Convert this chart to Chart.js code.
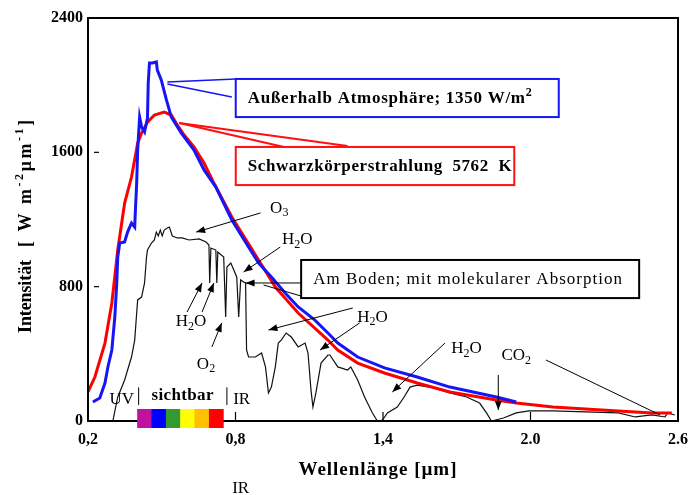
<!DOCTYPE html>
<html>
<head>
<meta charset="utf-8">
<script src="https://cdn.jsdelivr.net/npm/chart.js@4.4.1/dist/chart.umd.min.js"></script>
<style>
  html, body { margin: 0; padding: 0; background: #fff; }
</style>
</head>
<body>
<canvas id="c" width="697" height="495"></canvas>
<script>
// Spektrum außerhalb der Atmosphäre (blau)
const extraWl  = [0.220, 0.248, 0.269, 0.281, 0.297, 0.309, 0.317, 0.321, 0.329, 0.349, 0.361, 0.377, 0.390, 0.392, 0.398, 0.402, 0.406, 0.410, 0.418, 0.430, 0.442, 0.445, 0.450, 0.462, 0.478, 0.482, 0.498, 0.519, 0.539, 0.579, 0.631, 0.672, 0.720, 0.785, 0.853, 0.894, 0.946, 1.002, 1.055, 1.123, 1.176, 1.216, 1.297, 1.406, 1.539, 1.672, 1.861, 1.942];
const extraVal = [113, 137, 226, 322, 423, 619, 822, 977, 1060, 1066, 1125, 1179, 1155, 1227, 1417, 1614, 1715, 1810, 1751, 1721, 1804, 2013, 2132, 2132, 2138, 2090, 2031, 1912, 1810, 1715, 1614, 1495, 1393, 1197, 1036, 941, 858, 762, 679, 601, 524, 464, 381, 316, 262, 202, 143, 113];

// Schwarzkörperstrahlung 5762 K (rot)
const bbWl  = [0.200, 0.228, 0.269, 0.297, 0.321, 0.349, 0.377, 0.402, 0.418, 0.442, 0.470, 0.510, 0.539, 0.563, 0.591, 0.631, 0.672, 0.712, 0.785, 0.894, 0.962, 1.055, 1.176, 1.216, 1.297, 1.406, 1.539, 1.672, 1.861, 1.942, 2.091, 2.224, 2.357, 2.494, 2.575];
const bbVal = [173, 262, 464, 703, 1018, 1298, 1453, 1655, 1715, 1780, 1822, 1840, 1822, 1763, 1703, 1632, 1536, 1417, 1215, 959, 798, 643, 482, 423, 345, 286, 226, 173, 125, 107, 83, 71, 60, 48, 48];

// Am Boden, mit molekularer Absorption (schwarz)
const groundWl  = [0.301, 0.321, 0.341, 0.349, 0.377, 0.390, 0.398, 0.402, 0.418, 0.430, 0.438, 0.442, 0.458, 0.470, 0.478, 0.486, 0.494, 0.502, 0.510, 0.523, 0.531, 0.543, 0.563, 0.583, 0.611, 0.652, 0.680, 0.692, 0.695, 0.700, 0.720, 0.724, 0.728, 0.752, 0.760, 0.765, 0.781, 0.793, 0.805, 0.813, 0.821, 0.833, 0.841, 0.845, 0.853, 0.881, 0.906, 0.922, 0.934, 0.946, 0.962, 0.974, 0.986, 1.006, 1.027, 1.055, 1.083, 1.095, 1.107, 1.115, 1.127, 1.148, 1.176, 1.184, 1.216, 1.256, 1.269, 1.297, 1.325, 1.357, 1.377, 1.398, 1.418, 1.458, 1.486, 1.510, 1.539, 1.607, 1.672, 1.740, 1.793, 1.821, 1.841, 1.890, 1.942, 1.994, 2.091, 2.224, 2.357, 2.426, 2.494, 2.547, 2.559, 2.587];
const groundVal = [0, 143, 214, 244, 381, 482, 643, 721, 738, 822, 977, 1018, 1060, 1078, 1125, 1102, 1137, 1102, 1137, 1149, 1155, 1102, 1090, 1090, 1078, 1084, 1066, 1048, 822, 1030, 1018, 822, 1006, 977, 619, 917, 941, 899, 858, 619, 840, 828, 822, 423, 381, 381, 405, 322, 167, 202, 322, 464, 482, 524, 500, 441, 464, 405, 185, 83, 167, 345, 393, 393, 322, 304, 322, 244, 143, 48, 0, 6, 48, 83, 143, 202, 214, 197, 167, 143, 107, 48, 0, 18, 48, 60, 60, 54, 48, 24, 36, 24, 48, 36];

const xTickValues = [0.2, 0.8, 1.4, 2.0, 2.6];
const xTickLabels = ['0,2', '0,8', '1,4', '2.0', '2.6'];
const yTickValues = [0, 800, 1600, 2400];
const yTickLabels = ['0', '800', '1600', '2400'];

// sichtbarer Bereich, Farbstreifen
const visibleEdges  = [0.400, 0.458, 0.517, 0.575, 0.633, 0.692, 0.750];
const visibleColors = ['#c0129c', '#0000ff', '#339933', '#ffff00', '#ffc000', '#ff0000'];

const FONT = "'Liberation Serif', 'Times New Roman', serif";

// Beschriftungskästen (Datenkoordinaten)
const boxes = [
  { text: 'Außerhalb Atmosphäre; 1350 W/m^2', x0: 0.801, x1: 2.115, y0: 2037, y1: 1810, color: '#1515f8', weight: 'bold', width: 284 },
  { text: 'Schwarzkörperstrahlung  5762  K', x0: 0.801, x1: 1.934, y0: 1632, y1: 1405, color: '#ff1010', weight: 'bold', width: 264 },
  { text: 'Am Boden; mit molekularer Absorption', x0: 1.067, x1: 2.442, y0: 959, y1: 732, color: '#000', weight: 'normal', width: 309 }
];
const blueLeaders = [[0.523, 2019, 0.801, 2037], [0.523, 2007, 0.785, 1929]];
const redLeaders  = [[0.571, 1775, 1.015, 1626], [0.571, 1775, 1.256, 1638]];

// Pfeile: x1, y1, x2, y2, Pfeilspitze
const arrows = [
  [0.902, 1239, 0.640, 1125, true],
  [0.982, 1036, 0.833, 887, true],
  [0.603, 649, 0.664, 822, true],
  [0.664, 649, 0.712, 822, true],
  [0.704, 441, 0.744, 584, true],
  [1.277, 673, 0.934, 542, true],
  [1.305, 584, 1.144, 423, true],
  [1.652, 464, 1.438, 173, true],
  [1.869, 274, 1.869, 66, true],
  [2.063, 363, 2.527, 36, false],
  [1.067, 822, 0.841, 822, true],
  [1.067, 744, 0.914, 810, false]
];

const labels = [
  { t: 'O_3', x: 0.978, y: 1268 },
  { t: 'H_2O', x: 1.051, y: 1078 },
  { t: 'H_2O', x: 0.619, y: 590 },
  { t: 'O_2', x: 0.680, y: 339 },
  { t: 'H_2O', x: 1.357, y: 619 },
  { t: 'H_2O', x: 1.740, y: 429 },
  { t: 'CO_2', x: 1.942, y: 387 },
  { t: 'UV', x: 0.337, y: 125 },
  { t: 'sichtbar', x: 0.585, y: 149, weight: 'bold', width: 62 },
  { t: 'IR', x: 0.825, y: 125 },
  { t: 'IR', x: 0.821, y: -400 }
];
const rangeBars = [0.406, 0.765];

function parseRich(str) {
  const out = [];
  let buf = '', i = 0;
  while (i < str.length) {
    const c = str[i];
    if (c === '^' || c === '_') {
      if (buf) { out.push({ t: buf, k: 0 }); buf = ''; }
      let seg;
      if (str[i + 1] === '{') {
        const j = str.indexOf('}', i);
        seg = str.slice(i + 2, j);
        i = j + 1;
      } else {
        seg = str[i + 1];
        i += 2;
      }
      out.push({ t: seg, k: c === '^' ? 1 : -1 });
    } else {
      buf += c;
      i++;
    }
  }
  if (buf) out.push({ t: buf, k: 0 });
  return out;
}

// Text mit Hoch-/Tiefstellung zeichnen
function drawRich(ctx, str, x, y, o) {
  const size = o.size || 16, weight = o.weight || 'normal';
  const parts = parseRich(str);
  const fontFor = k => `${weight} ${k ? Math.round(size * 0.68) : size}px ${FONT}`;
  let spacing = 0;
  if (o.width) {
    ctx.letterSpacing = '0px';
    let nat = 0, n = 0;
    parts.forEach(p => { ctx.font = fontFor(p.k); nat += ctx.measureText(p.t).width; n += p.t.length; });
    spacing = (o.width - nat) / Math.max(1, n - 1);
  }
  ctx.letterSpacing = spacing.toFixed(2) + 'px';
  const widths = parts.map(p => { ctx.font = fontFor(p.k); return ctx.measureText(p.t).width; });
  const total = widths.reduce((s, w) => s + w, 0);
  let cx = o.align === 'left' ? x : (o.align === 'right' ? x - total : x - total / 2);
  ctx.textAlign = 'left';
  ctx.textBaseline = 'middle';
  ctx.fillStyle = o.color || '#000';
  parts.forEach((p, i) => {
    ctx.font = fontFor(p.k);
    const dy = p.k === 1 ? -size * 0.36 : (p.k === -1 ? size * 0.3 : 0);
    ctx.fillText(p.t, cx, y + dy);
    cx += widths[i];
  });
  ctx.letterSpacing = '0px';
}

function line(ctx, x1, y1, x2, y2) {
  ctx.beginPath();
  ctx.moveTo(x1, y1);
  ctx.lineTo(x2, y2);
  ctx.stroke();
}

function arrowHead(ctx, x1, y1, x2, y2) {
  const ang = Math.atan2(y2 - y1, x2 - x1);
  const len = 9, half = 3.5;
  ctx.beginPath();
  ctx.moveTo(x2, y2);
  ctx.lineTo(x2 - len * Math.cos(ang) + half * Math.sin(ang), y2 - len * Math.sin(ang) - half * Math.cos(ang));
  ctx.lineTo(x2 - len * Math.cos(ang) - half * Math.sin(ang), y2 - len * Math.sin(ang) + half * Math.cos(ang));
  ctx.closePath();
  ctx.fill();
}

const overlay = {
  id: 'overlay',
  afterDatasetsDraw(chart) {
    const { ctx, chartArea: a, scales: { x, y } } = chart;
    const X = v => x.getPixelForValue(v);
    const Y = v => y.getPixelForValue(v);
    ctx.save();

    // Rahmen
    ctx.strokeStyle = '#000';
    ctx.lineWidth = 2;
    ctx.strokeRect(a.left, a.top, a.right - a.left, a.bottom - a.top);

    // kurze Teilstriche innen
    ctx.lineWidth = 1.2;
    yTickValues.slice(1, -1).forEach(v => line(ctx, a.left + 6, Y(v), a.left + 11, Y(v)));
    xTickValues.slice(1, -1).forEach(v => line(ctx, X(v), a.bottom - 9, X(v), a.bottom));

    // Farbstreifen sichtbares Licht
    visibleColors.forEach((c, i) => {
      ctx.fillStyle = c;
      ctx.fillRect(X(visibleEdges[i]), a.bottom - 12, X(visibleEdges[i + 1]) - X(visibleEdges[i]) + 0.5, 19);
    });

    // UV | sichtbar | IR
    ctx.lineWidth = 1;
    rangeBars.forEach(v => line(ctx, X(v), Y(200), X(v), Y(95)));

    // Kästen und Zuleitungen
    ctx.lineWidth = 1.6;
    ctx.strokeStyle = '#1515f8';
    blueLeaders.forEach(l => line(ctx, X(l[0]), Y(l[1]), X(l[2]), Y(l[3])));
    ctx.lineWidth = 2;
    ctx.strokeStyle = '#ff1010';
    redLeaders.forEach(l => line(ctx, X(l[0]), Y(l[1]), X(l[2]), Y(l[3])));

    boxes.forEach(b => {
      const bx = X(b.x0), by = Y(b.y0), bw = X(b.x1) - bx, bh = Y(b.y1) - by;
      ctx.fillStyle = '#fff';
      ctx.fillRect(bx, by, bw, bh);
      ctx.strokeStyle = b.color;
      ctx.lineWidth = 2;
      ctx.strokeRect(bx, by, bw, bh);
      drawRich(ctx, b.text, bx + 12, by + bh / 2 + 1, { size: 17, weight: b.weight, align: 'left', width: b.width });
    });

    // Pfeile
    ctx.strokeStyle = '#000';
    ctx.fillStyle = '#000';
    ctx.lineWidth = 1;
    arrows.forEach(ar => {
      const x1 = X(ar[0]), y1 = Y(ar[1]), x2 = X(ar[2]), y2 = Y(ar[3]);
      line(ctx, x1, y1, x2, y2);
      if (ar[4]) arrowHead(ctx, x1, y1, x2, y2);
    });

    // Beschriftungen
    labels.forEach(l => drawRich(ctx, l.t, X(l.x), Y(l.y), { size: 17, weight: l.weight || 'normal', width: l.width }));

    // Achsentitel
    drawRich(ctx, 'Wellenlänge [µm]', X(1.4) - 5, 470, { size: 19, weight: 'bold', width: 158 });
    ctx.translate(26, 228);
    ctx.rotate(-Math.PI / 2);
    drawRich(ctx, 'Intensität', -105, 0, { size: 18, weight: 'bold', align: 'left', width: 73 });
    drawRich(ctx, '[ W m^{-2}µm^{-1}]', -19, 0, { size: 18, weight: 'bold', align: 'left', width: 127 });

    ctx.restore();
  }
};

const toPoints = (xs, ys) => xs.map((v, i) => ({ x: v, y: ys[i] }));

new Chart(document.getElementById('c'), {
  type: 'line',
  data: {
    datasets: [
      { label: 'Außerhalb Atmosphäre', data: toPoints(extraWl, extraVal), borderColor: '#1515f8', borderWidth: 3 },
      { label: 'Schwarzkörperstrahlung 5762 K', data: toPoints(bbWl, bbVal), borderColor: '#ff0000', borderWidth: 3 },
      { label: 'Am Boden', data: toPoints(groundWl, groundVal), borderColor: '#111', borderWidth: 1.2 }
    ]
  },
  options: {
    responsive: false,
    animation: false,
    layout: { padding: { top: 18, right: 14, left: 0, bottom: 0 } },
    elements: { point: { radius: 0 }, line: { tension: 0, fill: false } },
    plugins: { legend: { display: false }, tooltip: { enabled: false } },
    scales: {
      x: {
        type: 'linear',
        min: 0.2,
        max: 2.6,
        afterBuildTicks: s => { s.ticks = xTickValues.map(v => ({ value: v })); },
        afterFit: s => { s.height = 74; },
        grid: { display: false, drawTicks: false },
        border: { display: false },
        ticks: {
          autoSkip: false,
          maxRotation: 0,
          padding: 9,
          color: '#000',
          font: { family: FONT, size: 16, weight: 'bold' },
          callback: (v, i) => xTickLabels[i]
        }
      },
      y: {
        min: 0,
        max: 2400,
        afterBuildTicks: s => { s.ticks = yTickValues.map(v => ({ value: v })); },
        afterFit: s => { s.width = 88; },
        grid: { display: false, drawTicks: false },
        border: { display: false },
        ticks: {
          padding: 5,
          color: '#000',
          font: { family: FONT, size: 16, weight: 'bold' },
          callback: (v, i) => yTickLabels[i]
        }
      }
    }
  },
  plugins: [overlay]
});
</script>
</body>
</html>
